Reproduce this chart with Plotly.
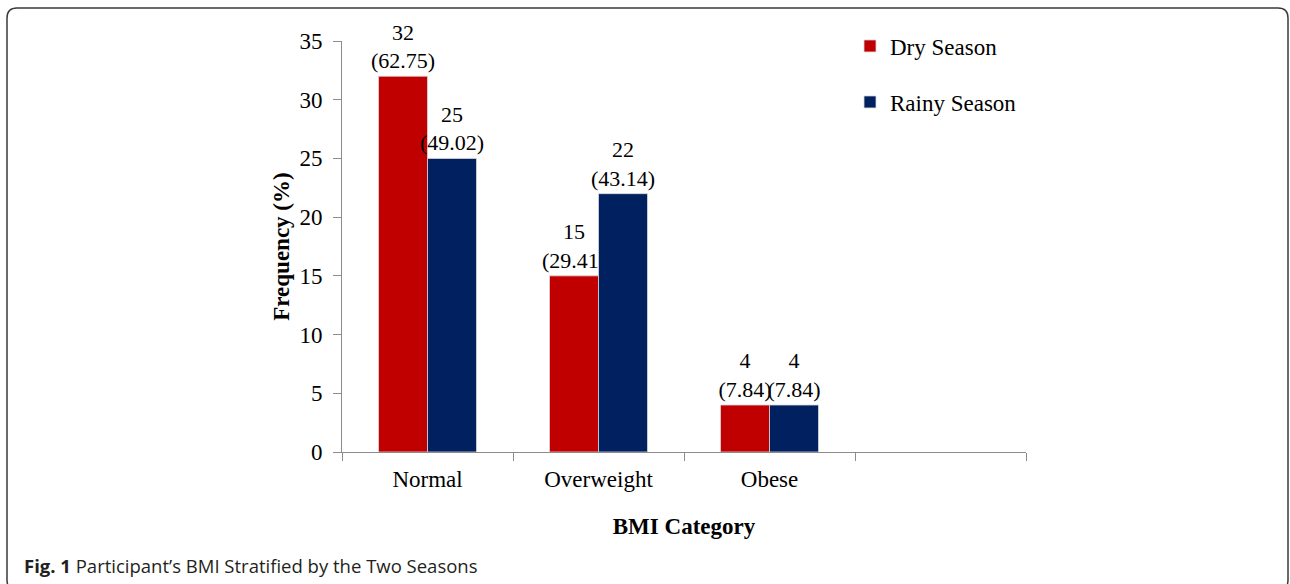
import plotly.graph_objects as go

# ---- data ----
categories = ["Normal", "Overweight", "Obese"]
axis_categories = ["Normal", "Overweight", "Obese", " "]
dry_counts = [32, 15, 4]
dry_pct = ["62.75", "29.41", "7.84"]
rainy_counts = [25, 22, 4]
rainy_pct = ["49.02", "43.14", "7.84"]
series_names = ["Dry Season", "Rainy Season"]
y_ticks = [0, 5, 10, 15, 20, 25, 30, 35]

# ---- layout geometry (page pixels; body margin removed via post_script) ----
W, H = 1290, 584
L, R, T, B = 342, 1026, 41, 452  # plot area edges
PW, PH = R - L, B - T

def px(x):
    return (x - L) / PW

def py(y):
    return (B - y) / PH

SERIF = "Liberation Serif, Times New Roman, serif"
RED = "#C00000"
NAVY = "#002060"

fig = go.Figure()
fig.add_trace(go.Bar(
    name=series_names[0], x=categories, y=dry_counts,
    text=[f"{c}<br>({p})" for c, p in zip(dry_counts, dry_pct)],
    textposition="outside", cliponaxis=False, constraintext="none",
    textfont=dict(family=SERIF, size=22, color="#000"),
    marker=dict(color=RED, line=dict(color="#d9d9d9", width=0.8)),
    legend="legend",
))
fig.add_trace(go.Bar(
    name=series_names[1], x=categories, y=rainy_counts,
    text=[f"{c}<br>({p})" for c, p in zip(rainy_counts, rainy_pct)],
    textposition="outside", cliponaxis=False, constraintext="none",
    textfont=dict(family=SERIF, size=22, color="#000"),
    marker=dict(color=NAVY, line=dict(color="#d9d9d9", width=0.8)),
    legend="legend2",
))

# rounded border around the figure
x0, x1, yt, yb, r = 7, 1288, 8, 590, 10
path = (f"M {px(x0)},{py(yb - r)} L {px(x0)},{py(yt + r)} "
        f"Q {px(x0)},{py(yt)} {px(x0 + r)},{py(yt)} "
        f"L {px(x1 - r)},{py(yt)} Q {px(x1)},{py(yt)} {px(x1)},{py(yt + r)} "
        f"L {px(x1)},{py(yb - r)} Q {px(x1)},{py(yb)} {px(x1 - r)},{py(yb)} "
        f"L {px(x0 + r)},{py(yb)} Q {px(x0)},{py(yb)} {px(x0)},{py(yb - r)} Z")

fig.update_layout(
    width=W, height=H,
    margin=dict(l=L, r=W - R, t=T, b=H - B, autoexpand=False),
    paper_bgcolor="white", plot_bgcolor="white",
    barmode="group", bargap=0.427, bargroupgap=0,
    font=dict(family=SERIF, size=23, color="#000"),
    showlegend=True,
    legend=dict(x=px(850), y=py(46), xanchor="left", yanchor="middle",
                font=dict(family=SERIF, size=23), bgcolor="rgba(0,0,0,0)"),
    legend2=dict(x=px(850), y=py(102), xanchor="left", yanchor="middle",
                 font=dict(family=SERIF, size=23), bgcolor="rgba(0,0,0,0)"),
    xaxis=dict(
        type="category", categoryorder="array", categoryarray=axis_categories,
        range=[-0.5, 3.5], tickson="boundaries", ticks="outside", ticklen=8,
        tickcolor="#8c8c8c", showline=True, linecolor="#8c8c8c", linewidth=1,
        showgrid=False, ticklabelstandoff=6,
        tickfont=dict(family=SERIF, size=23),
        title=dict(text="<b>BMI Category</b>", font=dict(family=SERIF, size=23),
                   standoff=27),
    ),
    yaxis=dict(
        range=[0, 35], tickvals=y_ticks, ticks="outside", ticklen=8,
        tickcolor="#8c8c8c", showline=True, linecolor="#8c8c8c", linewidth=1,
        showgrid=False, zeroline=False, ticklabelstandoff=6,
        tickfont=dict(family=SERIF, size=23),
        title=dict(text="<b>Frequency (%)</b>", font=dict(family=SERIF, size=23),
                   standoff=3),
    ),
    shapes=[dict(type="path", xref="paper", yref="paper", path=path,
                 line=dict(color="#3a3a3a", width=1.5), fillcolor="rgba(0,0,0,0)",
                 layer="below")],
    annotations=[dict(
        xref="paper", yref="paper", x=px(22), y=py(565),
        xanchor="left", yanchor="middle", showarrow=False,
        text="<b>Fig. 1</b> Participant’s BMI Stratified by the Two Seasons",
        font=dict(family="Open Sans, Noto Sans, sans-serif", size=18.5, color="#231f20"),
    )],
)

fig.write_html("out.html",
               config={"displayModeBar": False},
               post_script="document.body.style.margin='0';document.body.style.overflow='hidden';")
